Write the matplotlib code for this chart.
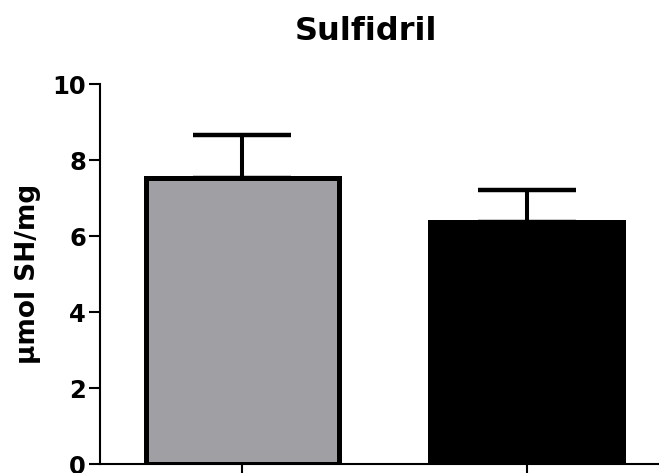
import matplotlib
matplotlib.use("Agg")
import matplotlib.pyplot as plt

groups = ["Controle", "Tratado"]
means = [7.53, 6.37]
errors = [1.14, 0.84]
colors = ["#a09fa4", "#000000"]
yticks = [0, 2, 4, 6, 8, 10]

plt.rcParams["font.family"] = ["DejaVu Sans"]
plt.rcParams["font.weight"] = "bold"

W, H = 659, 473
fig = plt.figure(figsize=(W / 100, H / 100), dpi=100)
ax = fig.add_axes([100 / W, 9 / H, 569 / W, 380 / H])

x = list(range(len(groups)))
ax.bar(x, means, width=0.678, color=colors, edgecolor="black", linewidth=3.6, zorder=2)
ax.errorbar(x, means, yerr=[[0] * len(errors), errors], fmt="none", ecolor="black",
            elinewidth=2.9, capsize=35, capthick=3.2, zorder=1)

ax.set_xlim(-0.5, 1.5)
ax.set_ylim(0, 10)
ax.set_yticks(yticks)
ax.set_xticks(x)
ax.set_xticklabels([])
ax.tick_params(axis="y", direction="out", length=8, width=1.5, labelsize=17.5, pad=2)
ax.tick_params(axis="x", direction="out", length=8, width=1.5)
for s in ["top", "right"]:
    ax.spines[s].set_visible(False)
for s in ["left", "bottom"]:
    ax.spines[s].set_linewidth(1.5)
for lab in ax.get_yticklabels():
    lab.set_fontweight("bold")

fig.text(366 / W, 1 - 40 / H, "Sulfidril", ha="center", va="baseline",
         fontsize=23, fontweight="bold")
fig.text(28 / W, 1 - 274 / H, "\u03bcmol SH/mg", ha="center", va="center",
         rotation=90, fontsize=19, fontweight="bold")

fig.savefig("out.png", dpi=100)
